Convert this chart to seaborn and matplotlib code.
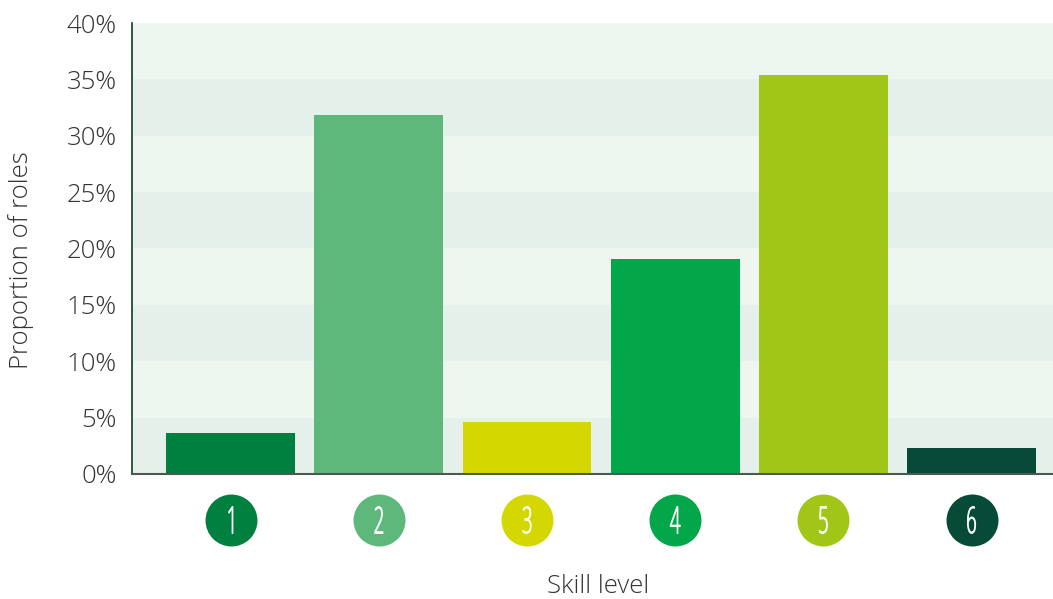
import matplotlib
matplotlib.use("Agg")
import matplotlib.pyplot as plt
import seaborn as sns
import pandas as pd
from matplotlib.textpath import TextPath
from matplotlib.patches import PathPatch
from matplotlib.transforms import Affine2D, ScaledTranslation

levels = ["1", "2", "3", "4", "5", "6"]
share = [3.6, 31.8, 4.6, 19.1, 35.4, 2.3]
colors = ["#00803E", "#5EB87B", "#D4D800", "#04A64A", "#A2C617", "#074A38"]
yticks = [0, 5, 10, 15, 20, 25, 30, 35, 40]

sns.set_style("white")
plt.rcParams['font.family'] = ['Open Sans', 'DejaVu Sans']

df = pd.DataFrame({"level": levels, "share": share})

fig = plt.figure(figsize=(10.53, 5.99), dpi=100)
ax = fig.add_axes([0.1254, 0.2087, 0.8746, 0.7529])

# alternating background bands every 5%
for lo, hi in zip(yticks[:-1], yticks[1:]):
    c = "#E6F0EA" if (lo // 5) % 2 == 0 else "#EEF7EF"
    ax.axhspan(lo, hi, color=c, zorder=0, lw=0)

sns.barplot(data=df, x="level", y="share", hue="level", palette=colors,
            legend=False, width=0.87, saturation=1, linewidth=0, ax=ax, zorder=2)

ax.set_ylim(0, 40)
ax.set_xlim(-0.666, 5.55)
ax.set_yticks(yticks)
ax.set_yticklabels([f"{t}%" for t in yticks], fontsize=18.5, color="#333333",
                   fontweight="light")
ax.tick_params(axis="y", length=0, pad=11)
ax.tick_params(axis="x", length=0, labelbottom=False)

for s in ["top", "right"]:
    ax.spines[s].set_visible(False)
ax.spines["left"].set_color("#123A28")
ax.spines["left"].set_linewidth(1.2)
ax.spines["bottom"].set_color("#4A5A52")
ax.spines["bottom"].set_linewidth(1.5)

# numbered circles under the bars, digits drawn narrow
xt = ax.get_xaxis_transform()
for i, (lab, c) in enumerate(zip(levels, colors)):
    ax.scatter(i, -0.102, s=1400, color=c, transform=xt, clip_on=False, zorder=3, lw=0)
    tp = TextPath((0, 0), lab, size=22, prop={"family": "Open Sans", "weight": "light"})
    bb = tp.get_extents()
    sy = 27.0 / bb.height
    tr = (Affine2D().translate(-(bb.x0 + bb.x1) / 2, -(bb.y0 + bb.y1) / 2)
          .scale(0.5 * sy, sy)
          + ScaledTranslation(i, -0.102, xt))
    ax.add_patch(PathPatch(tp, transform=tr, facecolor="white", edgecolor="white",
                           lw=0.6, clip_on=False, zorder=4))

ax.set_xlabel("Skill level", fontsize=18.5, color="#333333", fontweight="light")
ax.set_ylabel("Proportion of roles", fontsize=18.5, color="#333333", fontweight="light")
ax.xaxis.set_label_coords(0.5065, -0.222)
ax.yaxis.set_label_coords(-0.106, 0.475)

fig.savefig("out.png", dpi=100)
